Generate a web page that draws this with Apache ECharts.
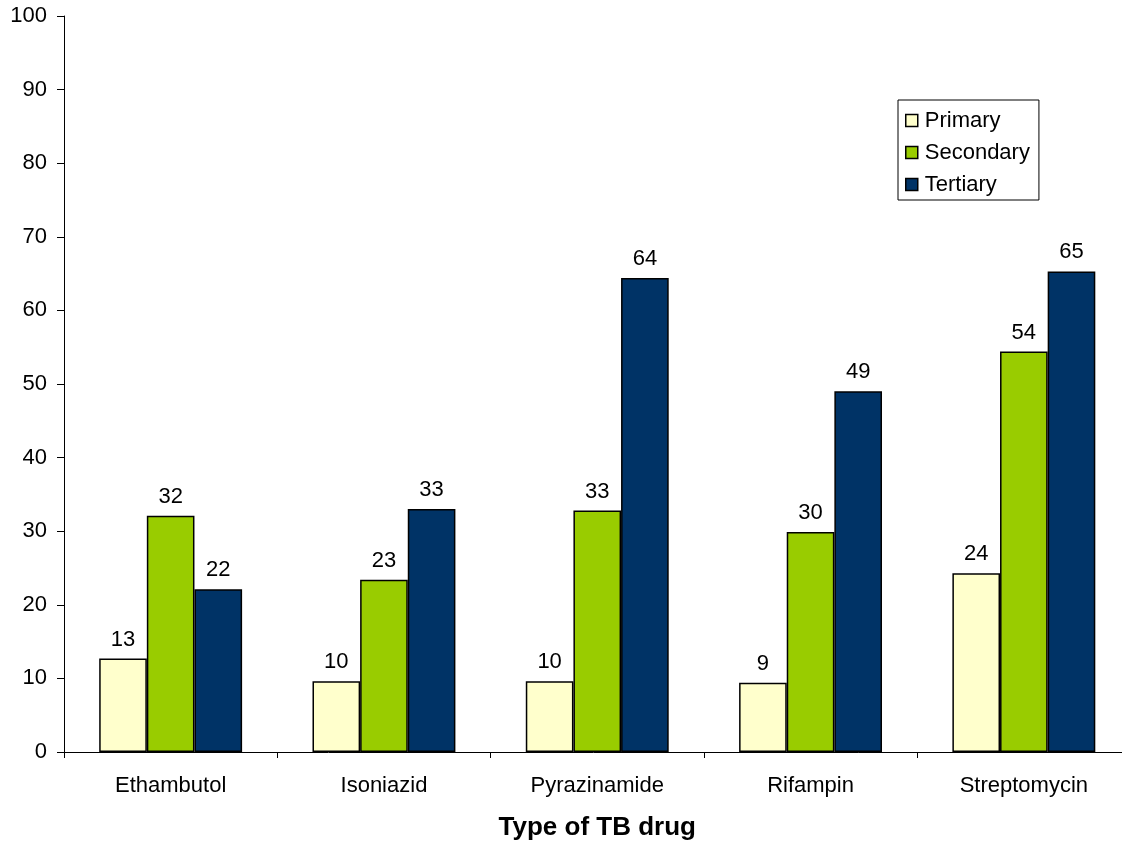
<!DOCTYPE html>
<html>
<head>
<meta charset="utf-8">
<script src="https://cdn.jsdelivr.net/npm/echarts@6/dist/echarts.min.js"></script>
<style>
  html, body { margin: 0; padding: 0; background: #fff; }
  #chart { width: 1122px; height: 846px; }
</style>
</head>
<body>
<div id="chart"></div>
<script>
// Drug resistance by TB drug type (%)
const drugs = ['Ethambutol', 'Isoniazid', 'Pyrazinamide', 'Rifampin', 'Streptomycin'];
const primary = [12.7, 9.6, 9.6, 9.4, 24.3];
const secondary = [32.1, 23.4, 32.8, 29.9, 54.4];
const tertiary = [22.1, 33.0, 64.4, 49.0, 65.3];
const yTicks = [0, 10, 20, 30, 40, 50, 60, 70, 80, 90, 100];

const FONT = '"Liberation Sans", Arial, sans-serif';
const FS = 22;

function barSeries(name, data, color) {
  return {
    name: name,
    type: 'bar',
    data: data,
    barGap: '0%',
    barCategoryGap: '33%',
    itemStyle: { color: color, borderColor: '#000', borderWidth: 1.5 },
    label: {
      show: true,
      position: 'top',
      distance: 8,
      color: '#000',
      fontFamily: FONT,
      fontSize: FS,
      formatter: p => String(Math.round(p.value))
    }
  };
}

const chart = echarts.init(document.getElementById('chart'), null, { renderer: 'canvas' });
chart.setOption({
  animation: false,
  backgroundColor: '#fff',
  textStyle: { fontFamily: FONT },
  grid: {
    left: 64, right: -8.5, top: 16, bottom: 94,
    containLabel: false,
    outerBoundsMode: 'none'
  },
  legend: {
    orient: 'vertical',
    left: 898,
    top: 100,
    padding: [8, 9, 3, 7],
    itemGap: 7,
    itemWidth: 12,
    itemHeight: 12,
    borderColor: '#000',
    borderWidth: 1,
    backgroundColor: '#fff',
    icon: 'rect',
    textStyle: { fontFamily: FONT, fontSize: FS, color: '#000', lineHeight: 25, padding: [0, 0, 0, 2] },
    data: [
      { name: 'Primary', itemStyle: { borderColor: '#000', borderWidth: 1.5 } },
      { name: 'Secondary', itemStyle: { borderColor: '#000', borderWidth: 1.5 } },
      { name: 'Tertiary', itemStyle: { borderColor: '#000', borderWidth: 1.5 } }
    ]
  },
  xAxis: {
    type: 'category',
    data: drugs,
    name: 'Type of TB drug',
    nameLocation: 'middle',
    nameGap: 63,
    nameTextStyle: { fontFamily: FONT, fontSize: 26, fontWeight: 'bold', color: '#000' },
    axisLine: { lineStyle: { color: '#000', width: 1 } },
    axisTick: { show: true, length: 6, alignWithLabel: false, lineStyle: { color: '#000' } },
    axisLabel: { color: '#000', fontFamily: FONT, fontSize: FS, margin: 23 },
    splitLine: { show: false }
  },
  yAxis: {
    type: 'value',
    min: yTicks[0],
    max: yTicks[yTicks.length - 1],
    interval: yTicks[1] - yTicks[0],
    axisLine: { show: true, lineStyle: { color: '#000', width: 1 } },
    axisTick: { show: true, length: 7, lineStyle: { color: '#000' } },
    axisLabel: { color: '#000', fontFamily: FONT, fontSize: FS, margin: 17 },
    splitLine: { show: false }
  },
  series: [
    barSeries('Primary', primary, '#FFFFCC'),
    barSeries('Secondary', secondary, '#99CC00'),
    barSeries('Tertiary', tertiary, '#003366')
  ]
});
</script>
</body>
</html>
